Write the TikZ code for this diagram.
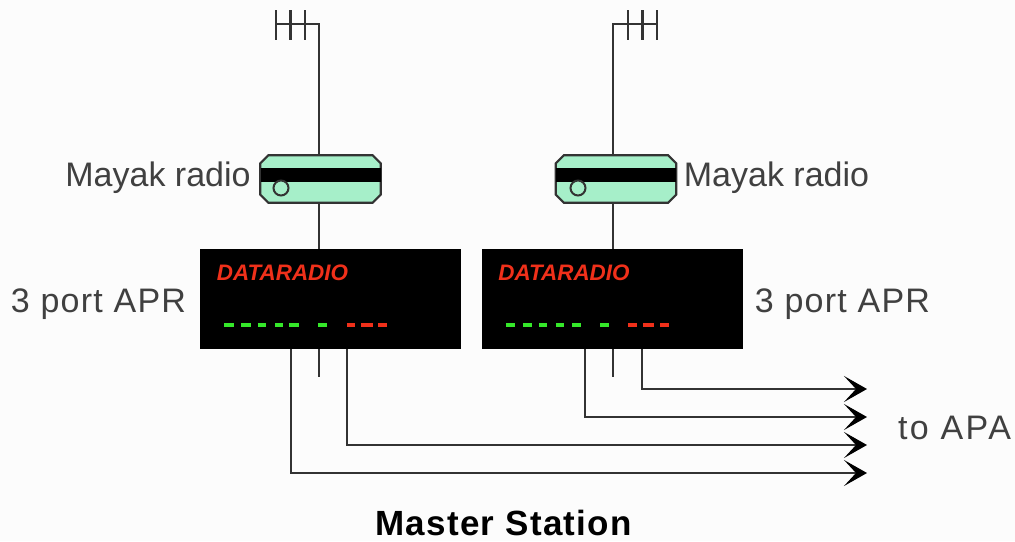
\documentclass[tikz,border=0pt]{standalone}
\usepackage{fontspec}
\setmainfont{Liberation Sans}
\usepackage{tikz}
\usetikzlibrary{arrows.meta}
\definecolor{radiogreen}{HTML}{A6EFC9}
\definecolor{wiregray}{HTML}{333333}
\definecolor{ledgreen}{HTML}{35E82A}
\definecolor{ledred}{HTML}{F0301A}
\tikzset{
    wire/.style={draw=wiregray, line width=2.2pt},
    feed/.style={wire, -{Stealth[length=23pt, width=26pt, inset=12pt, black]}},
    radio/.style={minimum width=120pt, minimum height=47pt, inner sep=0pt},
    radiobody/.style={draw=wiregray, fill=radiogreen, line width=2.2pt},
    band/.style={fill=black, minimum width=120pt, minimum height=14pt, inner sep=0pt},
    knob/.style={circle, draw=wiregray, fill=radiogreen, line width=2pt, minimum size=15pt, inner sep=0pt},
    apr/.style={fill=black, minimum width=261pt, minimum height=100pt, inner sep=0pt},
    label/.style={anchor=base, inner sep=0pt, text=black!75, font=\fontsize{34}{40}\selectfont},
    widelabel/.style={label, font=\fontsize{34}{40}\selectfont\addfontfeature{LetterSpace=3.7}},
    brand/.style={anchor=base, inner sep=0pt, text=ledred, font=\fontsize{22.4}{26}\selectfont\bfseries\itshape},
    led/.style={line width=3.5pt}
}
\begin{document}
\begin{tikzpicture}[x=1pt, y=-1pt]
    \useasboundingbox (0,0) rectangle (1015,541);
    % Background
    \fill[black!1] (0,0) rectangle (1015,541);
    % Radios and APR boxes
    \foreach \i/\rx/\bx/\kx in {1/320.5/330.5/281, 2/616/612/578} {
        \node[radio] (Radio-\i) at (\rx,179) {};
        \draw[radiobody] ([xshift=8pt]Radio-\i.north west) -- ([xshift=-8pt]Radio-\i.north east)
            -- ([yshift=-8pt]Radio-\i.north east) -- ([yshift=8pt]Radio-\i.south east)
            -- ([xshift=-8pt]Radio-\i.south east) -- ([xshift=8pt]Radio-\i.south west)
            -- ([yshift=8pt]Radio-\i.south west) -- ([yshift=-8pt]Radio-\i.north west) -- cycle;
        \node[band] (Band-\i) at (\rx,175) {};
        \node[knob] (Knob-\i) at (\kx,188) {};
        \node[apr] (Box-\i) at (\bx,299) {};
    }
    \node[brand] (Brand-1) at (282.5,280) {DATARADIO};
    \node[brand] (Brand-2) at (564,280) {DATARADIO};
    % Labels
    \node[label] (RadioLabel-1) at (158,186) {Mayak radio};
    \node[label] (RadioLabel-2) at (776.5,186) {Mayak radio};
    \node[widelabel] (AprLabel-1) at (98.5,312) {3 port APR};
    \node[widelabel] (AprLabel-2) at (842.5,312) {3 port APR};
    \node[label, font=\fontsize{34}{40}\selectfont\addfontfeature{LetterSpace=7}] (ToApa) at (954.5,439) {to APA};
    \node[label, text=black, font=\fontsize{35}{40}\selectfont\bfseries\addfontfeature{LetterSpace=3.7}] (Master) at (503.5,535) {Master Station};
    % LEDs
    \foreach \a/\b in {224/234,241/251,258/266,275/283,289/299,318/327} {
        \draw[led, ledgreen] (\a,325) -- (\b,325);
    }
    \foreach \a/\b in {347/355,361/373,378/387} {
        \draw[led, ledred] (\a,325) -- (\b,325);
    }
    \foreach \a/\b in {506/515,523/532,539/547,556/564,572/581,600/609} {
        \draw[led, ledgreen] (\a,325) -- (\b,325);
    }
    \foreach \a/\b in {628/637,643/654,660/669} {
        \draw[led, ledred] (\a,325) -- (\b,325);
    }
    % Antennas
    \foreach \i/\x/\far/\p/\q/\r in {1/319/276/276/290.5/305, 2/613/657/628/642.5/657} {
        \coordinate (Corner-\i) at (\x,24);
        \coordinate (Tip-\i) at (\far,24);
        \draw[wire] (Radio-\i.north -| Corner-\i) -- (Corner-\i) -- (Tip-\i);
        \foreach \t in {\p,\q,\r} {
            \draw[wire] (\t,10) -- (\t,40);
        }
        \draw[wire] (Radio-\i.south -| Corner-\i) -- (Box-\i.north -| Corner-\i);
        % Short port
        \coordinate (Stub-\i) at (\x,377);
        \draw[wire] (Box-\i.south -| Stub-\i) -- (Stub-\i);
    }
    % Feeds
    \foreach \i/\x/\y/\b in {1/642/389/2, 2/585/417/2, 3/347/445/1, 4/291/473/1} {
        \coordinate (Bend-\i) at (\x,\y);
        \coordinate (End-\i) at (867,\y);
        \draw[feed] (Box-\b.south -| Bend-\i) -- (Bend-\i) -- (End-\i);
    }
\end{tikzpicture}
\end{document}
